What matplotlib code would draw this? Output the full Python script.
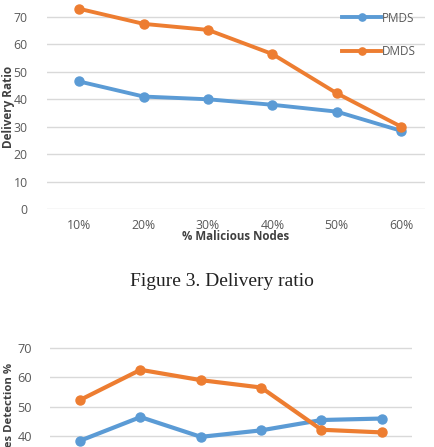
import matplotlib
matplotlib.use("Agg")
import matplotlib.pyplot as plt

# данные
categories = ["10%", "20%", "30%", "40%", "50%", "60%"]
pmds_delivery = [46.5, 41.0, 40.0, 38.0, 35.5, 28.5]
dmds_delivery = [73.0, 67.5, 65.3, 56.5, 42.2, 30.0]
pmds_detection = [38.5, 46.5, 39.8, 42.0, 45.5, 46.0]
dmds_detection = [52.3, 62.5, 59.0, 56.5, 42.2, 41.3]

blue = "#5B9BD5"
orange = "#ED7D31"
grid_c = "#D9D9D9"
text_c = "#595959"

plt.rcParams['font.family'] = ['Open Sans', 'DejaVu Sans']

W, H = 435, 447
fig = plt.figure(figsize=(W / 100, H / 100), dpi=100)


def px_axes(left, top, right, bottom):
    # прямоугольник в пикселях -> доли фигуры
    return fig.add_axes([left / W, (H - bottom) / H, (right - left) / W, (bottom - top) / H])


def style(ax, fs):
    for s in ax.spines.values():
        s.set_visible(False)
    ax.yaxis.grid(True, color=grid_c, linewidth=1)
    ax.set_axisbelow(True)
    ax.tick_params(length=0, colors=text_c, labelsize=fs)


x = list(range(len(categories)))

# 1. верхний график: Delivery ratio
ax1 = px_axes(47, 0, 425, 209)
ax1.plot(x, pmds_delivery, color=blue, lw=2.8, marker="o", ms=6.5, label="PMDS")
ax1.plot(x, dmds_delivery, color=orange, lw=2.8, marker="o", ms=6.5, label="DMDS")
ax1.set_xlim(-0.5, 5.37)
ax1.set_ylim(0, 76.2)
ax1.set_yticks(range(0, 71, 10))
ax1.set_xticks(x)
ax1.set_xticklabels(categories)
style(ax1, 8.8)
ax1.tick_params(axis="y", pad=14)
ax1.tick_params(axis="x", pad=7)
ax1.set_xlabel("% Malicious Nodes", fontsize=8.3, fontweight="bold", color="#404040", labelpad=-1)
ax1.set_ylabel("Delivery Ratio", fontsize=8.5, fontweight="bold", color="#404040")
ax1.yaxis.set_label_coords((15 - 47) / 378, 0.49)
ax1.legend(loc="upper right", bbox_to_anchor=(427 / W, 1 - 1 / H), bbox_transform=fig.transFigure,
           frameon=False, fontsize=8.5, handlelength=3.3, handletextpad=0.1, labelspacing=1.7,
           markerscale=0.8, labelcolor=text_c)

# подпись рисунка
fig.text(222 / W, 1 - 282 / H, "Figure 3. Delivery ratio", family="Liberation Serif",
         fontsize=14, ha="center", va="center", color="#222222")

# 2. нижний график (обрезан снизу)
ax2 = px_axes(50, 344.7, 412, 554.4)
ax2.plot(x, pmds_detection, color=blue, lw=3, marker="o", ms=6.5)
ax2.plot(x, dmds_detection, color=orange, lw=3, marker="o", ms=6.5)
ax2.set_xlim(-0.5, 5.5)
ax2.set_ylim(0, 71)
ax2.set_yticks(range(0, 71, 10))
ax2.set_xticks(x)
ax2.set_xticklabels([])
style(ax2, 9.2)
ax2.tick_params(axis="y", pad=13)
ylab = ax2.set_ylabel("Malicious Nodes Detection %", fontsize=8.2, fontweight="bold", color="#404040")

# подпись оси обрезана снизу: верх текста на ~363 px от верха картинки
fig.canvas.draw()
L = ylab.get_window_extent().height
ax2.yaxis.set_label_coords((15 - 50) / 362, (554.4 - (363 + L / 2)) / 209.7)

fig.savefig("out.png", dpi=100)
